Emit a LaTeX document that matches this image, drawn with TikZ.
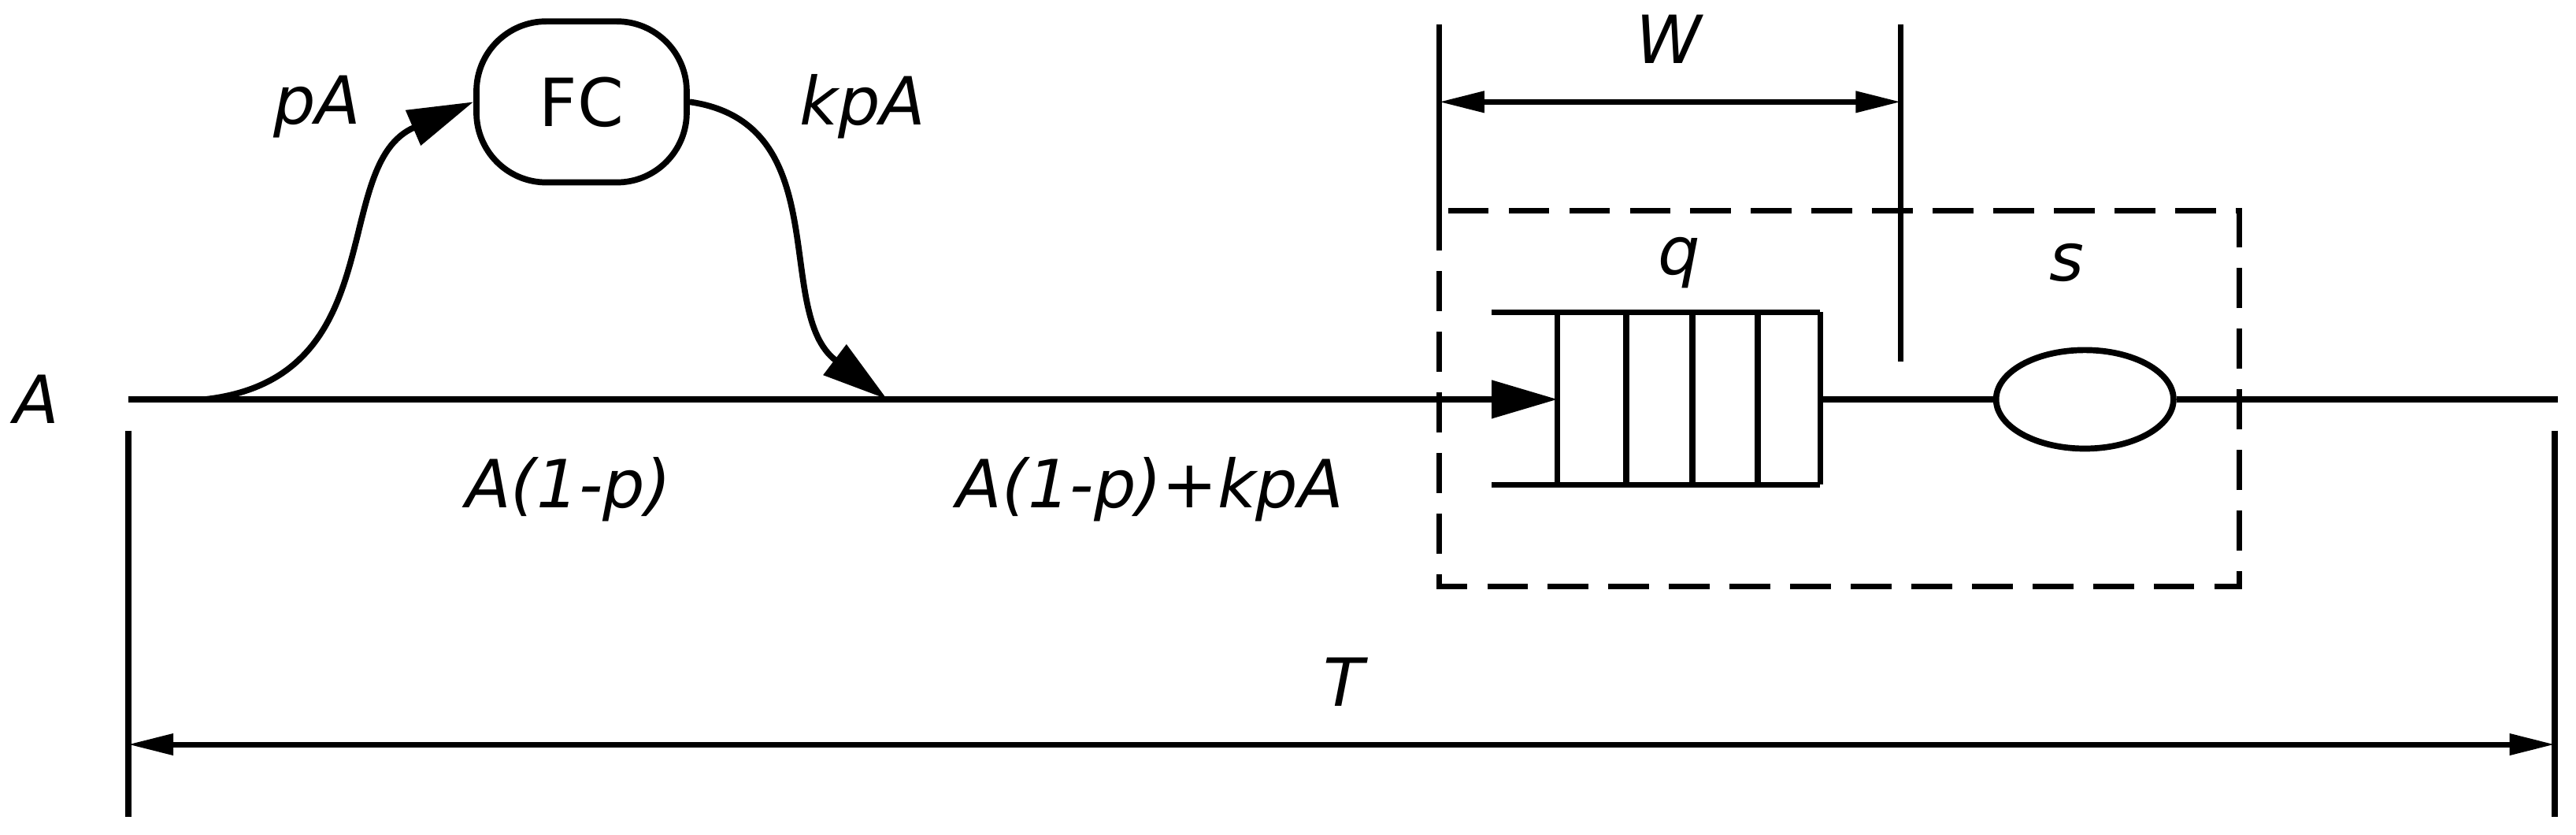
\documentclass[tikz,border=0pt]{standalone}
\usepackage{fontspec}
\setmainfont{DejaVu Sans}
\usetikzlibrary{arrows.meta,shapes.geometric}
\begin{document}
\begin{tikzpicture}[x=0.02cm,y=-0.02cm,
  line width=2.1pt,
  lbl/.style={font=\fontsize{23}{26}\selectfont\itshape, inner sep=0pt},
  big/.style={-{Triangle[length=0.8cm,width=0.45cm]}},
  dim/.style={{Triangle[length=0.55cm,width=0.25cm]}-{Triangle[length=0.55cm,width=0.25cm]}, line width=1.9pt}]
\useasboundingbox (0,0) rectangle (1568,508);
% labels
\node[lbl] (lA) at (22,243) {A};
\node[lbl] (lpA) at (193,65) {pA};
\node[lbl] (lkpA) at (525,65) {kpA};
\node[lbl] (l1) at (346,298) {A(1-p)};
\node[lbl] (l2) at (700,298) {A(1-p)+kpA};
\node[lbl] (lW) at (1016,24) {W};
\node[lbl] (lq) at (1022,160) {q};
\node[lbl] (ls) at (1258,160) {s};
\node[lbl] (lT) at (818,415) {T};
% FC
\node[draw, rounded corners=0.85cm, minimum width=2.56cm, minimum height=1.96cm,
  font=\fontsize{23}{26}\selectfont] (fc) at (354,62) {FC};
% coordinates
\coordinate (s0) at (78,243);
\coordinate (br) at (125,243);
\coordinate (mg) at (540,243);
\coordinate (qin) at (948,243);
\coordinate (qout) at (1108,243);
\coordinate (end) at (1557,243);
% main line
\draw (s0) -- (mg);
\draw[big] (mg) -- (qin);
% branch curves
\draw[big] (br) .. controls (240,230) and (200,100) .. (fc.west);
\draw[big] (fc.east) .. controls (510,75) and (470,190) .. (mg);
% queue
\draw (908,190) -- (1108,190);
\draw (908,295) -- (1108,295);
\foreach \x in {948,990,1030,1070,1108} \draw (\x,190) -- (\x,295);
% server
\node[draw, ellipse, minimum width=2.16cm, minimum height=1.2cm, inner sep=0pt] (srv) at (1269,243) {};
\draw (qout) -- (srv.west);
\draw (srv.east) -- (end);
% dashed box
\draw[line width=1.9pt, dash pattern=on 14pt off 7pt] (876,128) rectangle (1363,357);
% W
\coordinate (w1t) at (876,15); \coordinate (w1b) at (876,128);
\coordinate (w2t) at (1157,15); \coordinate (w2b) at (1157,220);
\draw (w1t) -- (w1b);
\draw (w2t) -- (w2b);
\coordinate (wa) at (876,62); \coordinate (wb) at (1157,62);
\draw[dim] (wa) -- (wb);
% T
\coordinate (t1t) at (78,262); \coordinate (t1b) at (78,497);
\coordinate (t2t) at (1555,262); \coordinate (t2b) at (1555,497);
\draw (t1t) -- (t1b);
\draw (t2t) -- (t2b);
\coordinate (ta) at (78,453); \coordinate (tb) at (1555,453);
\draw[dim] (ta) -- (tb);
\end{tikzpicture}
\end{document}
